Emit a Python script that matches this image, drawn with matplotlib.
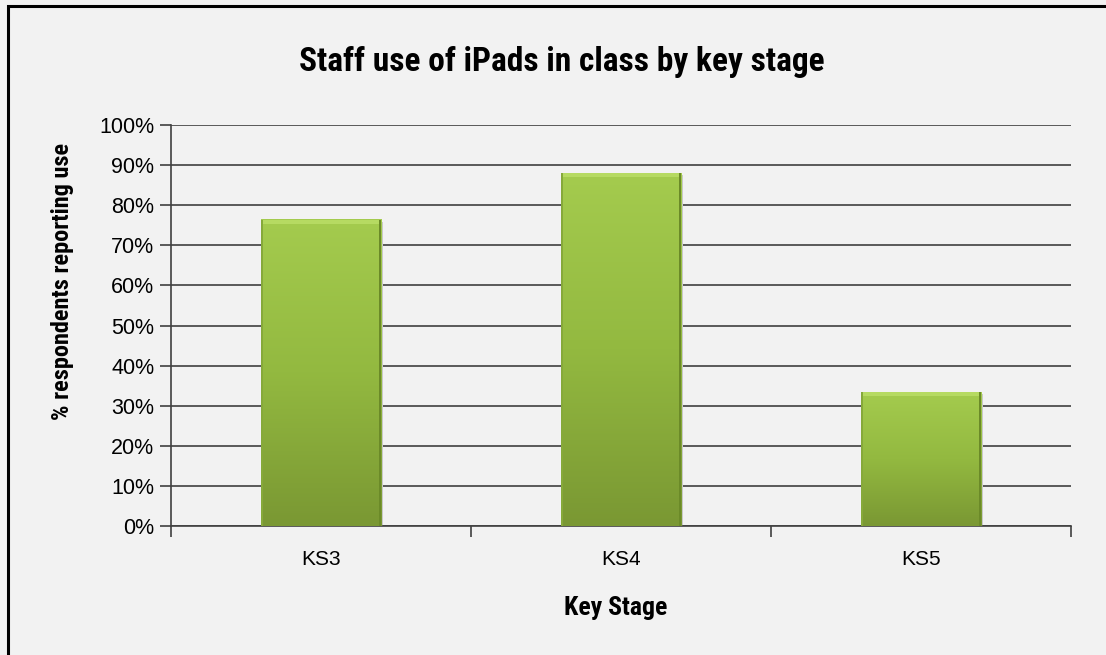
import matplotlib.pyplot as plt
import matplotlib.patches as mpatches
from matplotlib.colors import LinearSegmentedColormap
from matplotlib import font_manager
import numpy as np

# data
stages = ['KS3', 'KS4', 'KS5']
pct_use = [76.3, 88.0, 33.4]
yticks = list(range(0, 101, 10))

names = {f.name for f in font_manager.fontManager.ttflist}
narrow = [n for n in ['Liberation Sans Narrow', 'Roboto Condensed', 'Open Sans Condensed',
                      'Noto Sans Condensed', 'DejaVu Sans Condensed', 'Liberation Sans'] if n in names][:1]
narrow = narrow + ['DejaVu Sans']
plain = ['Liberation Sans', 'DejaVu Sans']

fig = plt.figure(figsize=(11.06, 6.55), dpi=100, facecolor='#f2f2f2')
ax = fig.add_axes([0.1546, 0.1969, 0.8138, 0.6123])
ax.set_facecolor('#f2f2f2')

# outer frame (only left/top visible in the original)
fig.patches.append(mpatches.Rectangle((0.0075, -0.05), 1.1, 1.041, transform=fig.transFigure,
                                      fill=False, edgecolor='black', linewidth=2.2))

x = np.arange(len(stages))
w = 0.4
grad = LinearSegmentedColormap.from_list('g', ['#7a9833', '#93b940', '#a4cb4e'])
for xi, v in zip(x, pct_use):
    # gradient fill
    img = np.linspace(0, 1, 200).reshape(-1, 1)
    ax.imshow(img, cmap=grad, origin='lower', aspect='auto',
              extent=[xi - w / 2, xi + w / 2, 0, v], zorder=3)
    # bevel highlight on top + darker sides
    ax.add_patch(mpatches.Rectangle((xi - w / 2, v - 1.0), w, 1.0, color='#b6da62', zorder=4, lw=0))
    ax.add_patch(mpatches.Rectangle((xi + w / 2 - 0.008, 0), 0.008, v, color='#6b8a28', zorder=4, lw=0))
    ax.add_patch(mpatches.Rectangle((xi - w / 2, 0), 0.006, v, color='#86a93a', zorder=4, lw=0))
    # soft shadow
    ax.add_patch(mpatches.Rectangle((xi + w / 2, 0), 0.006, v - 0.5, color='#c8c8c8', zorder=2, lw=0))

ax.set_xlim(-0.5, len(stages) - 0.5)
ax.set_ylim(0, 100)
ax.set_yticks(yticks)
ax.set_yticklabels([f'{t}%' for t in yticks], fontsize=15.5, family=plain)
ax.set_xticks(x)
ax.set_xticklabels(stages, fontsize=15, family=plain)
ax.tick_params(axis='x', length=0, pad=17)
ax.set_xticks(np.arange(-0.5, len(stages)), minor=True)
ax.tick_params(axis='x', which='minor', length=8, width=1.2, color='#404040')
ax.tick_params(axis='y', length=8, width=1.2, color='#404040', pad=4)
ax.yaxis.grid(True, color='#404040', linewidth=1.2)
ax.set_axisbelow(True)

for s in ['top', 'right']:
    ax.spines[s].set_visible(False)
ax.spines['left'].set_color('#404040')
ax.spines['bottom'].set_color('#404040')
ax.spines['left'].set_linewidth(1.2)
ax.spines['bottom'].set_linewidth(1.2)

ax.set_ylabel('% respondents reporting use', fontsize=17.5, fontweight='bold', family=narrow)
ax.yaxis.set_label_coords(-0.108, 0.61)
ax.set_xlabel('Key Stage', fontsize=18.5, fontweight='bold', family=narrow)
ax.xaxis.set_label_coords(0.494, -0.175)
fig.text(0.508, 0.905, 'Staff use of iPads in class by key stage', ha='center', va='center',
         fontsize=24, fontweight='bold', family=narrow)

plt.savefig('out.png', dpi=100, facecolor=fig.get_facecolor())
